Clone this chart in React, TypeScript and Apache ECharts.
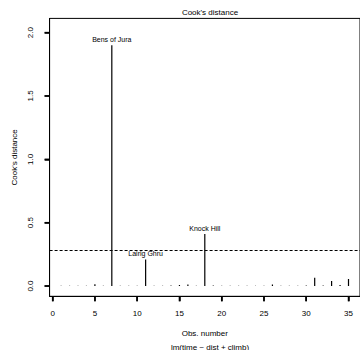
import React, { useEffect, useRef } from "react";
import * as echarts from "echarts";

// Cook's distance for each observation (obs number = index + 1)
const cookD = [
  0.003, 0.002, 0.002, 0.002, 0.015, 0.003, 1.9, 0.003, 0.002, 0.003,
  0.21, 0.003, 0.003, 0.005, 0.008, 0.012, 0.003, 0.41, 0.005, 0.002,
  0.003, 0.002, 0.002, 0.002, 0.002, 0.012, 0.002, 0.003, 0.002, 0.004,
  0.065, 0.004, 0.04, 0.008, 0.055,
];
const labelledObs = [7, 11, 18];
const labelledNames = ["Bens of Jura", "Lairig Ghru", "Knock Hill"];
const cutoff = 0.276;
const xTicks = [0, 5, 10, 15, 20, 25, 30, 35];
const yTicks = [0, 0.5, 1, 1.5, 2];

const X_MIN = -0.36;
const X_MAX = 36.36;
const Y_MIN = -0.081;
const Y_MAX = 2.112;
const TICK_LEN = 5;

const FONT = "'Liberation Sans', Arial, sans-serif";

export default function App() {
  const ref = useRef<HTMLDivElement>(null);
  useEffect(() => {
    if (!ref.current) return;
    const chart = echarts.init(ref.current, null, { renderer: "svg" });
    const data = cookD.map((v, i) => [i + 1, v]);
    chart.setOption({
      animation: false,
      textStyle: { fontFamily: FONT, color: "#000" },
      title: [
        {
          text: "Cook's distance",
          left: 205,
          top: 3,
          textAlign: "center",
          textStyle: { fontSize: 8, fontWeight: "normal", color: "#000", fontFamily: FONT },
        },
        {
          text: "lm(time ~ dist + climb)",
          left: 205,
          top: 338,
          textAlign: "center",
          textStyle: { fontSize: 8, fontWeight: "normal", color: "#000", fontFamily: FONT },
        },
      ],
      grid: {
        left: 49.6,
        right: -0.8,
        top: 18.4,
        bottom: 53.7,
        show: true,
        borderColor: "#000",
        borderWidth: 1,
        backgroundColor: "transparent",
      },
      xAxis: {
        type: "value",
        min: X_MIN,
        max: X_MAX,
        name: "Obs. number",
        nameLocation: "middle",
        nameGap: 33,
        nameTextStyle: { fontSize: 8, color: "#000", fontFamily: FONT },
        axisLine: { show: true, onZero: false, lineStyle: { color: "#000", width: 1 } },
        axisTick: {
          show: true,
          inside: false,
          length: TICK_LEN,
          customValues: xTicks,
          lineStyle: { color: "#000", width: 1.5 },
        },
        axisLabel: {
          customValues: xTicks,
          fontSize: 8,
          color: "#000",
          margin: 13,
          fontFamily: FONT,
        },
        splitLine: { show: false },
      },
      yAxis: {
        type: "value",
        min: Y_MIN,
        max: Y_MAX,
        name: "Cook's distance",
        nameLocation: "middle",
        nameGap: 31,
        nameTextStyle: { fontSize: 8, color: "#000", fontFamily: FONT },
        axisLine: { show: true, onZero: false, lineStyle: { color: "#000", width: 1 } },
        axisTick: {
          show: true,
          inside: false,
          length: TICK_LEN,
          customValues: yTicks,
          lineStyle: { color: "#000", width: 1.5 },
        },
        axisLabel: {
          customValues: yTicks,
          rotate: 90,
          fontSize: 8,
          color: "#000",
          margin: 15,
          fontFamily: FONT,
          formatter: (v: number) => v.toFixed(1),
        },
        splitLine: { show: false },
      },
      series: [
        {
          type: "custom",
          data,
          encode: { x: 0, y: 1 },
          clip: true,
          renderItem: (params: any, api: any) => {
            const x = api.value(0);
            const y = api.value(1);
            const p0 = api.coord([x, 0]);
            const p1 = api.coord([x, y]);
            const children: any[] = [
              {
                type: "line",
                shape: { x1: p0[0], y1: p0[1], x2: p1[0], y2: p1[1] },
                style: { stroke: "#000", lineWidth: 1.2 },
              },
            ];
            const li = labelledObs.indexOf(x);
            if (li >= 0) {
              children.push({
                type: "text",
                x: p1[0],
                y: p1[1] - 2,
                style: {
                  text: labelledNames[li],
                  textAlign: "center",
                  textVerticalAlign: "bottom",
                  fontSize: 7,
                  fill: "#000",
                  fontFamily: FONT,
                },
              });
            }
            return { type: "group", children };
          },
        },
        {
          // x-axis tick marks, placed through the axis scale
          type: "custom",
          data: xTicks.map((v) => [v, Y_MIN]),
          encode: { x: 0, y: 1 },
          clip: false,
          silent: true,
          z: 20,
          renderItem: (params: any, api: any) => {
            const p = api.coord([api.value(0), api.value(1)]);
            return {
              type: "line",
              shape: { x1: p[0], y1: p[1], x2: p[0], y2: p[1] + TICK_LEN },
              style: { stroke: "#000", lineWidth: 1.5 },
            };
          },
        },
        {
          // y-axis tick marks, placed through the axis scale
          type: "custom",
          data: yTicks.map((v) => [X_MIN, v]),
          encode: { x: 0, y: 1 },
          clip: false,
          silent: true,
          z: 20,
          renderItem: (params: any, api: any) => {
            const p = api.coord([api.value(0), api.value(1)]);
            return {
              type: "line",
              shape: { x1: p[0], y1: p[1], x2: p[0] - TICK_LEN, y2: p[1] },
              style: { stroke: "#000", lineWidth: 1.5 },
            };
          },
        },
        {
          type: "line",
          data: [],
          markLine: {
            silent: true,
            symbol: ["none", "none"],
            label: { show: false },
            lineStyle: { color: "#000", width: 1, type: [3, 2] },
            data: [{ yAxis: cutoff }],
          },
        },
      ],
    });
    return () => chart.dispose();
  }, []);
  return (
    <div
      ref={ref}
      style={{ position: "fixed", left: 0, top: 0, width: 360, height: 350, background: "#fff" }}
    />
  );
}
